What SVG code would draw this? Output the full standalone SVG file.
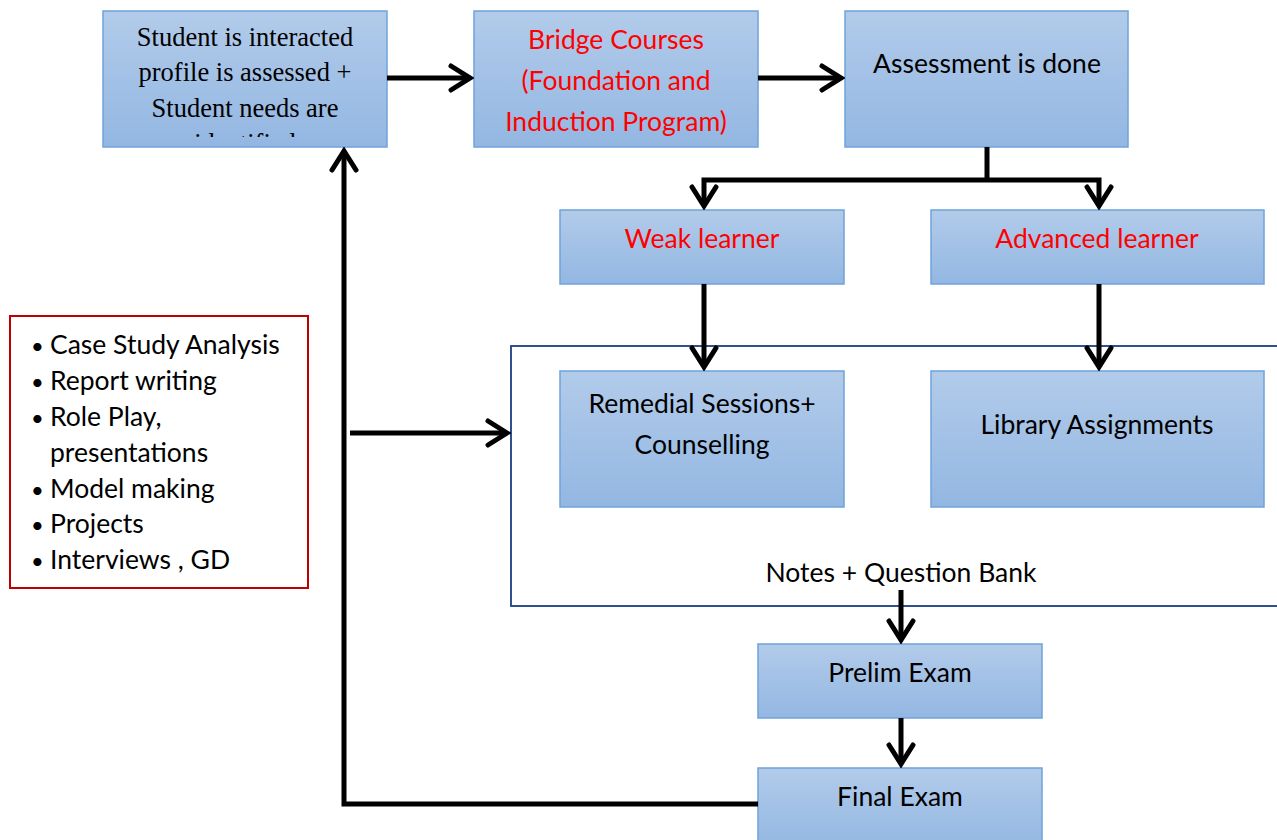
<svg xmlns="http://www.w3.org/2000/svg" width="1277" height="840" viewBox="0 0 1277 840">
<style>
.box{fill:url(#g);stroke:#6fa3da;stroke-width:1.5}
.t{font-family:Lato,"Liberation Sans",sans-serif;font-size:26.5px;fill:#000;text-anchor:middle}
.r{fill:#ff0000}
.s{font-family:"Liberation Serif",serif;font-size:26.5px;fill:#000;text-anchor:middle}
.c{fill:none;stroke:#000;stroke-width:5}
.l{font-family:Lato,"Liberation Sans",sans-serif;font-size:26.5px;fill:#000}
</style>
<defs>
<linearGradient id="g" x1="0" y1="0" x2="0" y2="1">
<stop offset="0" stop-color="#b2cbea"/>
<stop offset="1" stop-color="#93b7e2"/>
</linearGradient>
<marker id="a" markerUnits="userSpaceOnUse" viewBox="-24 -16 28 32" refX="0" refY="0" markerWidth="28" markerHeight="32" orient="auto">
<path d="M-19,-12 L0,0 L-19,12" fill="none" stroke="#000" stroke-width="5" stroke-linecap="round" stroke-linejoin="miter"/>
</marker>
<clipPath id="cp"><rect x="103" y="11" width="284" height="126"/></clipPath>
</defs>
<rect width="1277" height="840" fill="#fff"/>
<g id="frame">
<rect x="511" y="346" width="780" height="260" fill="none" stroke="#2f528f" stroke-width="2"/>
<text class="t" x="901" y="582">Notes + Question Bank</text>
</g>
<g id="n1">
<rect class="box" x="103" y="11" width="284" height="136"/>
<g clip-path="url(#cp)">
<text class="s" x="245" y="46">Student is interacted</text>
<text class="s" x="245" y="81">profile is assessed +</text>
<text class="s" x="245" y="117">Student needs are</text>
<text class="s" x="245" y="152">identified</text>
</g>
</g>
<g id="n2">
<rect class="box" x="474" y="11" width="284" height="136"/>
<text class="t r" x="616" y="49">Bridge Courses</text>
<text class="t r" x="616" y="90">(Foundation and</text>
<text class="t r" x="616" y="131">Induction Program)</text>
</g>
<g id="n3">
<rect class="box" x="845" y="11" width="283" height="136"/>
<text class="t" x="987" y="73">Assessment is done</text>
</g>
<g id="weak">
<rect class="box" x="560" y="210" width="284" height="74"/>
<text class="t r" x="702" y="248">Weak learner</text>
</g>
<g id="advanced">
<rect class="box" x="931" y="210" width="333" height="74"/>
<text class="t r" x="1097" y="248">Advanced learner</text>
</g>
<g id="remedial">
<rect class="box" x="560" y="371" width="284" height="136"/>
<text class="t" x="702" y="413">Remedial Sessions+</text>
<text class="t" x="702" y="454">Counselling</text>
</g>
<g id="library">
<rect class="box" x="931" y="371" width="333" height="136"/>
<text class="t" x="1097" y="434">Library Assignments</text>
</g>
<g id="prelim">
<rect class="box" x="758" y="644" width="284" height="74"/>
<text class="t" x="900" y="682">Prelim Exam</text>
</g>
<g id="final">
<rect class="box" x="758" y="768" width="284" height="80"/>
<text class="t" x="900" y="806">Final Exam</text>
</g>
<g id="activities">
<rect x="10" y="316" width="298" height="272" fill="#fff" stroke="#c00000" stroke-width="2"/>
<g class="l">
<text x="31" y="354" font-size="22">•</text><text x="50" y="354">Case Study Analysis</text>
<text x="31" y="390" font-size="22">•</text><text x="50" y="390">Report writing</text>
<text x="31" y="426" font-size="22">•</text><text x="50" y="426">Role Play,</text>
<text x="50" y="462">presentations</text>
<text x="31" y="498" font-size="22">•</text><text x="50" y="498">Model making</text>
<text x="31" y="533" font-size="22">•</text><text x="50" y="533">Projects</text>
<text x="31" y="569" font-size="22">•</text><text x="50" y="569">Interviews , GD</text>
</g>
</g>
<g id="connectors">
<path class="c" d="M387,78 H470" marker-end="url(#a)"/>
<path class="c" d="M758,78 H841" marker-end="url(#a)"/>
<path class="c" d="M987,147 V180"/>
<path class="c" d="M987,180 H704 V206" marker-end="url(#a)"/>
<path class="c" d="M987,180 H1099 V206" marker-end="url(#a)"/>
<path class="c" d="M704,284 V367" marker-end="url(#a)"/>
<path class="c" d="M1099,284 V367" marker-end="url(#a)"/>
<path class="c" d="M901,590 V640" marker-end="url(#a)"/>
<path class="c" d="M901,718 V764" marker-end="url(#a)"/>
<path class="c" d="M758,804 H344 V151" marker-end="url(#a)"/>
<path class="c" d="M350,433 H507" marker-end="url(#a)"/>
</g>
</svg>
